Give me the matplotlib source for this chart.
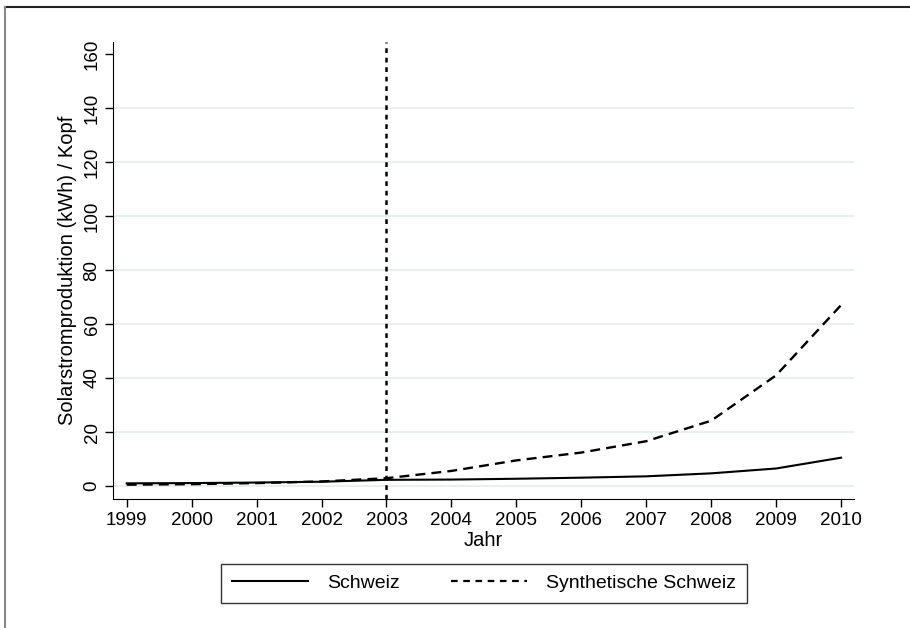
import matplotlib.pyplot as plt
from matplotlib.lines import Line2D

plt.rcParams['font.family'] = ['Liberation Sans', 'DejaVu Sans']

# Werte
jahre = [1999, 2000, 2001, 2002, 2003, 2004, 2005, 2006, 2007, 2008, 2009, 2010]
schweiz = [1.0, 1.1, 1.3, 1.6, 2.3, 2.4, 2.7, 3.1, 3.6, 4.7, 6.5, 10.5]
synthetisch = [0.5, 0.7, 1.1, 1.7, 2.9, 5.6, 9.5, 12.4, 16.6, 24.2, 41.0, 67.0]
y_ticks = [0, 20, 40, 60, 80, 100, 120, 140, 160]
eingriff = 2003

fig = plt.figure(figsize=(9.10, 6.28), dpi=100)
ax = fig.add_axes([0.1242, 0.2054, 0.8143, 0.7276])

for t in y_ticks[:-1]:
    ax.axhline(t, color='#e3ecec', lw=1.2, zorder=0)

ax.plot(jahre, schweiz, color='black', lw=1.5, label='Schweiz')
ax.plot(jahre, synthetisch, color='black', lw=1.7, dashes=(4.2, 2.6),
        label='Synthetische Schweiz')
ax.axvline(eingriff, color='black', lw=1.8, dashes=(1.9, 1.9))

ax.set_xlim(1998.789, 2010.2)
ax.set_ylim(-4.8, 164.4)
ax.set_xticks(jahre)
ax.set_yticks(y_ticks)
ax.tick_params(axis='both', length=6, width=1, labelsize=13.5, pad=3)
for lab in ax.get_yticklabels():
    lab.set_rotation(90)
    lab.set_va('center')
ax.spines['top'].set_visible(False)
ax.spines['right'].set_visible(False)
ax.set_xlabel('Jahr', fontsize=14.5, labelpad=2)
ax.set_ylabel('Solarstromproduktion (kWh) / Kopf', fontsize=14.5, labelpad=5)

handles = [Line2D([], [], color='black', lw=1.5),
           Line2D([], [], color='black', lw=1.6, dashes=(3, 2.5))]
leg = fig.legend(handles, ['Schweiz', 'Synthetische Schweiz'], ncol=2,
                 loc='center', bbox_to_anchor=(0.532, 0.071), fontsize=14,
                 frameon=True, fancybox=False, edgecolor='black',
                 handlelength=3.9, columnspacing=2.6, borderpad=0.55,
                 handletextpad=1.0)
leg.get_frame().set_linewidth(1.0)

# Rahmen oben und links
fig.add_artist(Line2D([5 / 910, 1], [1 - 7 / 628, 1 - 7 / 628],
                      transform=fig.transFigure, color='#222222', lw=1.5))
fig.add_artist(Line2D([5 / 910, 5 / 910], [0, 1 - 7 / 628],
                      transform=fig.transFigure, color='#888888', lw=1.5))

fig.savefig('out.png', dpi=100)
